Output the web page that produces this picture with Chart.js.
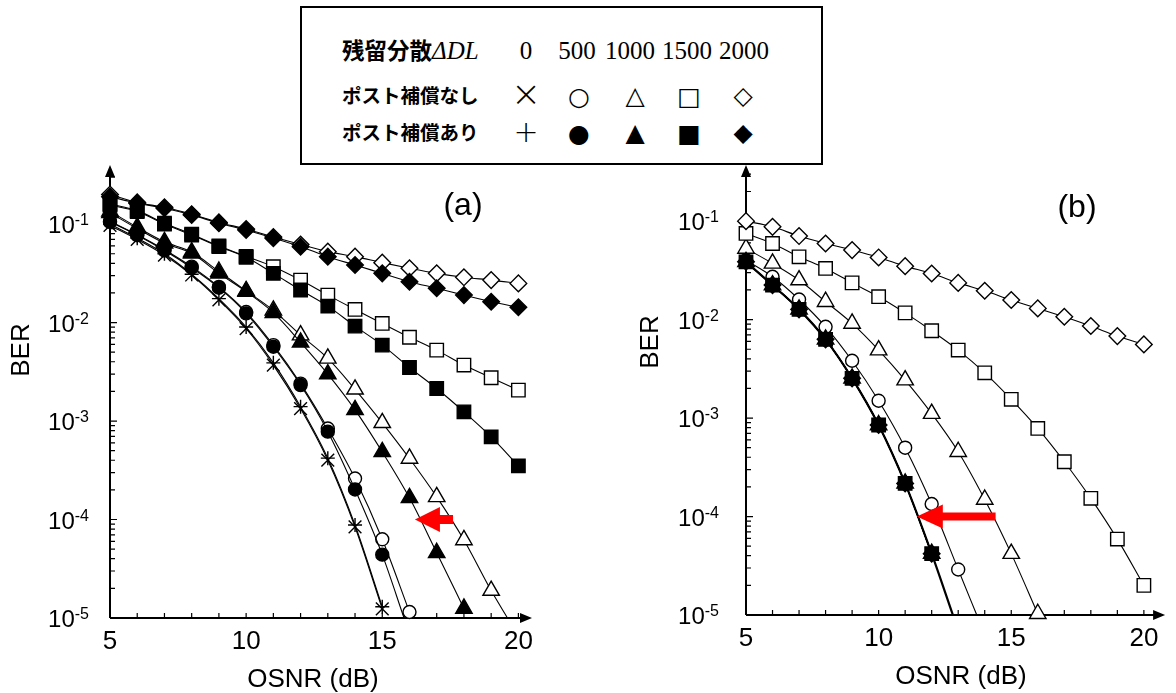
<!DOCTYPE html>
<html>
<head>
<meta charset="utf-8">
<script src="https://cdn.jsdelivr.net/npm/chart.js@4.4.0/dist/chart.umd.min.js"></script>
<style>
  body { margin: 0; background: #fff; width: 1176px; height: 693px; overflow: hidden; position: relative; }
  canvas { position: absolute; top: 0; }
  #chartA { left: 0; }
  #chartB { left: 590px; }
  #legend { position: absolute; left: 300px; top: 6px; width: 519px; height: 155px;
            border: 2px solid #000; background: #fff; }
  #legend span { position: absolute; white-space: nowrap; line-height: 1; }
  .lab { font-family: "Noto Sans CJK JP", sans-serif; font-weight: bold; font-size: 19.5px; transform: translateY(-50%); }
  .lab i { font-family: "Liberation Serif", serif; font-size: 25px; font-weight: normal; }
  .num { font-family: "Liberation Serif", serif; font-size: 25px; transform: translate(-50%, -50%); }
  .sym { font-family: "DejaVu Sans", sans-serif; font-size: 25px; transform: translate(-50%, -50%); }
</style>
</head>
<body>
<canvas id="chartA" width="590" height="693"></canvas>
<canvas id="chartB" width="586" height="693"></canvas>
<div id="legend">
  <span class="lab" style="left:40px;top:42px;font-size:22.5px">残留分散<i>ΔDL</i></span>
  <span class="lab" style="left:40px;top:87px">ポスト補償なし</span>
  <span class="lab" style="left:40px;top:124px">ポスト補償あり</span>
  <span class="num" style="left:224px;top:42px">0</span>
  <span class="num" style="left:275px;top:42px">500</span>
  <span class="num" style="left:328px;top:42px">1000</span>
  <span class="num" style="left:385px;top:42px">1500</span>
  <span class="num" style="left:442px;top:42px">2000</span>
  <span class="sym" style="left:224px;top:86px;font-size:36px;font-weight:300">×</span>
  <span class="sym" style="left:277px;top:88px">○</span>
  <span class="sym" style="left:333px;top:87px">△</span>
  <span class="sym" style="left:387px;top:88px">□</span>
  <span class="sym" style="left:441px;top:87px">◇</span>
  <span class="sym" style="left:224px;top:124px;font-size:30px;font-weight:300">+</span>
  <span class="sym" style="left:277px;top:125px">●</span>
  <span class="sym" style="left:333px;top:124px">▲</span>
  <span class="sym" style="left:387px;top:125px">■</span>
  <span class="sym" style="left:441px;top:124px">◆</span>
</div>
<script>
// OSNR points (dB) and axis labels
const osnr = [5, 6, 7, 8, 9, 10, 11, 12, 13, 14, 15, 16, 17, 18, 19, 20];
const xLabels = [5, 10, 15, 20];
const yDecades = [1e-5, 1e-4, 1e-3, 1e-2, 1e-1];

// -----------------------------
// (a) BER values, index 0 = 5 dB
// -----------------------------
const aNone0    = [0.097, 0.07, 0.0485, 0.0304, 0.017, 0.0087, 0.0037, 0.00134, 0.0004, 8.4e-5, 1.24e-5];
const aPost0    = [0.1, 0.072, 0.05, 0.031, 0.0175, 0.009, 0.0039, 0.0014, 0.00042, 8.8e-5, 1.3e-5];
const aNone500  = [0.107, 0.078, 0.055, 0.037, 0.023, 0.0128, 0.0059, 0.0024, 0.00084, 0.000261, 6.3e-5, 1.15e-5];
const aPost500  = [0.105, 0.077, 0.054, 0.036, 0.0226, 0.0124, 0.00568, 0.00232, 0.00078, 0.000202, 4.4e-5];
const aNone1000 = [0.135, 0.093, 0.066, 0.052, 0.033, 0.021, 0.0133, 0.00746, 0.00433, 0.0021, 0.00096, 0.000417, 0.00017, 6.2e-5, 1.9e-5];
const aPost1000 = [0.13, 0.09, 0.0638, 0.0505, 0.0316, 0.0206, 0.0126, 0.0063, 0.003, 0.0013, 0.000486, 0.000166, 4.6e-5, 1.25e-5];
const aNone1500 = [0.16, 0.137, 0.102, 0.079, 0.06, 0.047, 0.0369, 0.027, 0.019, 0.0136, 0.0098, 0.0071, 0.00525, 0.0037, 0.00275, 0.00206];
const aPost1500 = [0.156, 0.134, 0.1, 0.0775, 0.059, 0.046, 0.0316, 0.0214, 0.0147, 0.0092, 0.0059, 0.0035, 0.00214, 0.00124, 0.00069, 0.00035];
const aNone2000 = [0.2, 0.166, 0.148, 0.126, 0.104, 0.089, 0.074, 0.062, 0.0525, 0.0467, 0.0406, 0.0356, 0.0316, 0.0288, 0.027, 0.025];
const aPost2000 = [0.19, 0.163, 0.145, 0.124, 0.102, 0.087, 0.072, 0.059, 0.0467, 0.0384, 0.0316, 0.026, 0.0223, 0.019, 0.01625, 0.0143];
// where a curve meets the bottom axis past its last marker [OSNR, BER]
const aTail500  = [15.8, 1e-5];
const aTail1000 = [19.6, 1e-5];

// -----------------------------
// (b) BER values
// -----------------------------
const bPost     = [0.0386, 0.0224, 0.0127, 0.0063, 0.00253, 0.00085, 0.000217, 4.2e-5];
const bNone500  = [0.04, 0.0272, 0.016, 0.00845, 0.00382, 0.0015, 0.0005, 0.000134, 2.9e-5];
const bNone1000 = [0.0528, 0.0372, 0.0252, 0.0152, 0.00914, 0.0049, 0.00243, 0.00111, 0.000455, 0.000149, 4.2e-5, 1.03e-5];
const bNone1500 = [0.075, 0.0593, 0.0434, 0.0331, 0.0236, 0.0171, 0.0117, 0.0077, 0.0049, 0.00288, 0.00155, 0.000785, 0.00036, 0.000153, 5.9e-5, 2.0e-5];
const bNone2000 = [0.1, 0.0875, 0.0705, 0.0593, 0.0508, 0.0428, 0.0349, 0.0294, 0.0236, 0.0196, 0.0158, 0.013, 0.0107, 0.0086, 0.0068, 0.0056];
const bTailPost = [12.8, 1e-5];
const bTail500  = [13.7, 1e-5];

// marker shapes: [pointStyle, radius]
const X = ['crossRot', 9], PLUS = ['cross', 7], CIR = ['circle', 6.5],
      TRI = ['triangle', 9.5], SQ = ['rect', 9.5], DIA = ['rectRot', 8.3];

function pts(vals, tail) {
  const p = vals.map((v, i) => ({ x: osnr[i], y: v }));
  if (tail) p.push({ x: tail[0], y: tail[1], tail: true });
  return p;
}

function series(vals, mark, filled, tail, lw) {
  return {
    data: pts(vals, tail),
    borderColor: '#000',
    borderWidth: lw || 1.1,
    pointStyle: mark[0],
    pointRadius: c => (c.raw && c.raw.tail) ? 0 : mark[1],
    pointBackgroundColor: filled ? '#000' : '#fff',
    pointBorderColor: '#000',
    pointBorderWidth: 1.4,
    cubicInterpolationMode: 'monotone',
    clip: false,
    fill: false
  };
}

// -----------------------------
// Axes with arrows, inward ticks, 10^n labels, titles, red arrow
// -----------------------------
const deco = {
  id: 'deco',
  beforeDatasetsDraw(chart, args, o) {
    const { ctx, chartArea: ca, scales: { x, y } } = chart;
    ctx.save();
    ctx.strokeStyle = '#000';
    ctx.fillStyle = '#000';
    ctx.lineWidth = 2;
    ctx.beginPath();
    ctx.moveTo(ca.left, ca.bottom); ctx.lineTo(ca.left, ca.top + 8);
    ctx.moveTo(ca.left, ca.bottom); ctx.lineTo(ca.right - 8, ca.bottom);
    ctx.stroke();
    ctx.beginPath();
    ctx.moveTo(ca.left, ca.top); ctx.lineTo(ca.left - 5, ca.top + 12); ctx.lineTo(ca.left + 5, ca.top + 12); ctx.closePath();
    ctx.moveTo(ca.right, ca.bottom); ctx.lineTo(ca.right - 12, ca.bottom - 5); ctx.lineTo(ca.right - 12, ca.bottom + 5); ctx.closePath();
    ctx.fill();

    ctx.lineWidth = 1.2;
    ctx.beginPath();
    yDecades.forEach(d => {
      for (let m = 1; m <= 9; m++) {
        const v = m * d;
        if (v > y.max) break;
        const py = y.getPixelForValue(v);
        ctx.moveTo(ca.left, py); ctx.lineTo(ca.left + (m === 1 ? 7 : 5), py);
      }
    });
    osnr.forEach(t => {
      const px = x.getPixelForValue(t);
      ctx.moveTo(px, ca.bottom); ctx.lineTo(px, ca.bottom - 5);
    });
    ctx.stroke();

    // y labels 10^n
    ctx.textBaseline = 'alphabetic';
    yDecades.forEach(d => {
      const py = y.getPixelForValue(d);
      const exp = String(Math.round(Math.log10(d)));
      ctx.font = '16px "Liberation Sans", Arial, sans-serif';
      const we = ctx.measureText(exp).width;
      const right = ca.left - o.labelGap;
      ctx.textAlign = 'left';
      ctx.fillText(exp, right - we, py + 1);
      ctx.font = '24px "Liberation Sans", Arial, sans-serif';
      ctx.textAlign = 'right';
      ctx.fillText('10', right - we, py + 9);
    });

    // x labels
    ctx.font = '26px "Liberation Sans", Arial, sans-serif';
    ctx.textAlign = 'center';
    ctx.textBaseline = 'middle';
    xLabels.forEach(t => ctx.fillText(String(t), x.getPixelForValue(t), ca.bottom + 24));

    // titles
    ctx.fillText('OSNR (dB)', o.xTitle[0], o.xTitle[1]);
    ctx.save();
    ctx.translate(o.yTitle[0], o.yTitle[1]);
    ctx.rotate(-Math.PI / 2);
    ctx.fillText('BER', 0, 0);
    ctx.restore();
    ctx.font = '32px "Liberation Sans", Arial, sans-serif';
    ctx.fillText(o.panel[0], o.panel[1], o.panel[2]);
    ctx.restore();
  },
  afterDatasetsDraw(chart, args, o) {
    const { ctx, scales: { x, y } } = chart;
    const a = o.arrow;
    const x1 = x.getPixelForValue(a.from), x0 = x.getPixelForValue(a.to), py = y.getPixelForValue(a.at);
    ctx.save();
    ctx.fillStyle = '#ff0000';
    ctx.beginPath();
    ctx.moveTo(x0, py);
    ctx.lineTo(x0 + a.head, py - a.half);
    ctx.lineTo(x0 + a.head, py - a.shaft);
    ctx.lineTo(x1, py - a.shaft);
    ctx.lineTo(x1, py + a.shaft);
    ctx.lineTo(x0 + a.head, py + a.shaft);
    ctx.lineTo(x0 + a.head, py + a.half);
    ctx.closePath();
    ctx.fill();
    ctx.restore();
  }
};

function makeChart(id, datasets, xMax, yMax, pad, opts) {
  return new Chart(document.getElementById(id), {
    type: 'line',
    data: { datasets },
    options: {
      responsive: false,
      animation: false,
      layout: { padding: pad },
      plugins: { legend: { display: false }, tooltip: { enabled: false }, deco: opts },
      scales: {
        x: { type: 'linear', min: 5, max: xMax, display: false },
        y: { type: 'logarithmic', min: 1e-5, max: yMax, display: false }
      }
    },
    plugins: [deco]
  });
}

// first dataset is drawn on top
makeChart('chartA', [
  series(aPost2000, DIA, true),
  series(aPost1500, SQ, true),
  series(aPost1000, TRI, true),
  series(aPost500, CIR, true, aTail500),
  series(aPost0, PLUS, false),
  series(aNone2000, DIA, false),
  series(aNone1500, SQ, false),
  series(aNone1000, TRI, false, aTail1000),
  series(aNone500, CIR, false),
  series(aNone0, X, false)
], 20.5, Math.pow(10, -0.4), { left: 110, right: 58, top: 165, bottom: 75 }, {
  labelGap: 21, xTitle: [313, 680], yTitle: [22, 350], panel: ['(a)', 463, 206],
  arrow: { from: 17.6, to: 16.2, at: 1e-4, head: 25, half: 12.5, shaft: 4.5 }
});

makeChart('chartB', [
  series(bPost, SQ, true, bTailPost, 2.2),
  series(bPost, DIA, true),
  series(bPost, TRI, true),
  series(bPost, CIR, true),
  series(bPost, PLUS, false),
  series(bPost, X, false),
  series(bNone2000, DIA, false),
  series(bNone1500, SQ, false),
  series(bNone1000, TRI, false),
  series(bNone500, CIR, false, bTail500)
], 20.8, Math.pow(10, -0.43), { left: 156, right: 4, top: 165, bottom: 78 }, {
  labelGap: 27, xTitle: [371, 677], yTitle: [61, 342], panel: ['(b)', 487, 208],
  arrow: { from: 14.41, to: 11.44, at: 1e-4, head: 26, half: 12, shaft: 4 }
});
</script>
</body>
</html>
